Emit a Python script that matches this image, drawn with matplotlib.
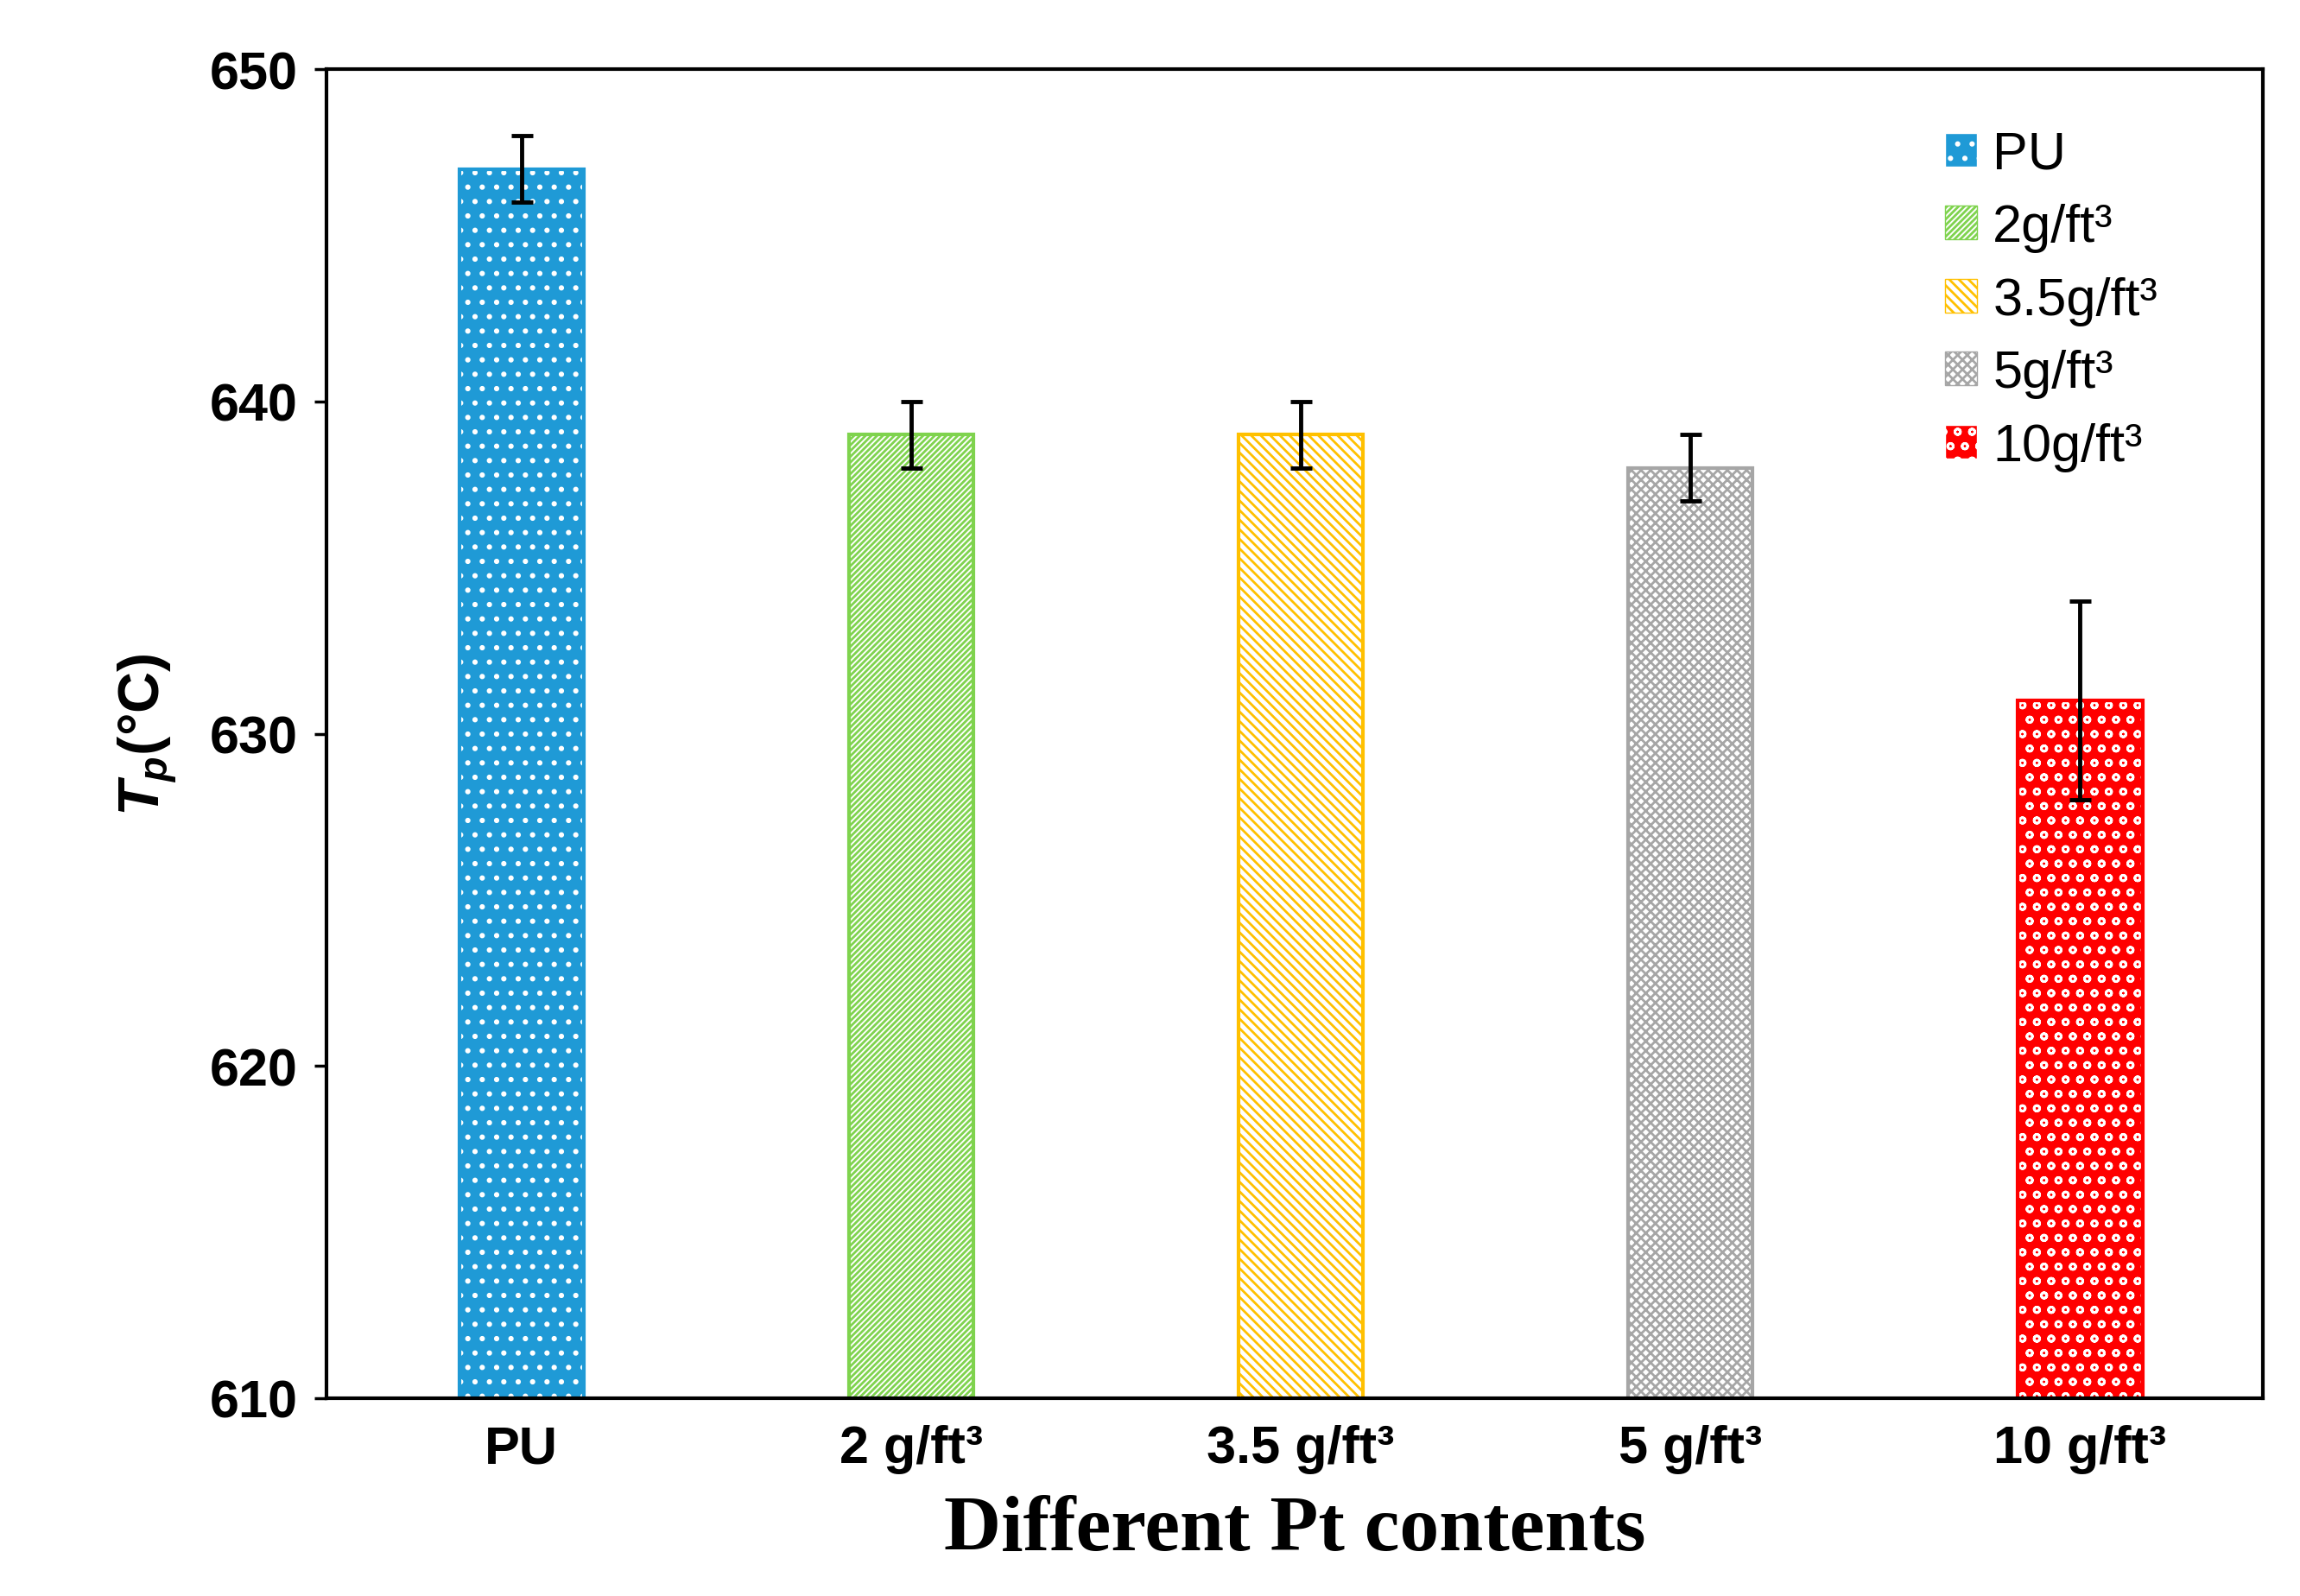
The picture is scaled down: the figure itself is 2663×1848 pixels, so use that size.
import matplotlib.pyplot as plt
from matplotlib.patches import Patch

categories = ["PU", "2 g/ft³", "3.5 g/ft³", "5 g/ft³", "10 g/ft³"]
legend_labels = ["PU", "2g/ft³", "3.5g/ft³", "5g/ft³", "10g/ft³"]
values = [647, 639, 639, 638, 631]
errors = [1, 1, 1, 1, 3]

colors = ["#1f9ad6", "#7fd34e", "#ffc000", "#a6a6a6", "#ff0000"]
faces = ["#1f9ad6", "white", "white", "white", "#ff0000"]
hatch_cols = ["white", "#7fd34e", "#ffc000", "#a6a6a6", "white"]
hatches = [".", "/////", "\\\\\\", "xxx", "o"]

plt.rcParams["font.family"] = "Liberation Sans"
plt.rcParams["mathtext.fontset"] = "custom"
plt.rcParams["mathtext.it"] = "Liberation Sans:italic:bold"
plt.rcParams["mathtext.rm"] = "Liberation Sans:bold"
plt.rcParams["hatch.linewidth"] = 2.0

fig = plt.figure(figsize=(26.63, 18.49), dpi=100)
ax = fig.add_axes([0.142, 0.124, 0.842, 0.832])

x = range(len(categories))
handles = []
for i in x:
    ax.bar(i, values[i] - 610, bottom=610, width=0.32, color=faces[i],
           edgecolor=hatch_cols[i], hatch=hatches[i], linewidth=0)
    ax.bar(i, values[i] - 610, bottom=610, width=0.32, fill=False,
           edgecolor=colors[i], linewidth=3)
    handles.append(Patch(facecolor=faces[i], edgecolor=hatch_cols[i], hatch=hatches[i]))
ax.errorbar(list(x), values, yerr=errors, fmt="none", ecolor="black",
            elinewidth=3.5, capsize=9, capthick=3.5)

ax.set_ylim(610, 650)
ax.set_xlim(-0.5, 4.47)
ax.set_yticks([610, 620, 630, 640, 650])
ax.set_xticks(list(x))
ax.set_xticklabels(categories)
ax.tick_params(axis="both", labelsize=44, width=2.5, length=10)
ax.tick_params(axis="x", length=0, pad=22)
ax.tick_params(axis="y", pad=14)
for lab in ax.get_xticklabels() + ax.get_yticklabels():
    lab.set_fontweight("bold")
for s in ax.spines.values():
    s.set_linewidth(3)

ax.set_ylabel("$T_p$(°C)", fontsize=48, fontweight="bold", labelpad=26)
ax.set_xlabel("Different Pt contents", fontsize=66, fontweight="bold",
              fontfamily="Liberation Serif", labelpad=18)

ax.legend(handles, legend_labels, loc="upper right", frameon=False, fontsize=44,
          handlelength=0.6, handleheight=0.6, handletextpad=0.3, labelspacing=0.45,
          bbox_to_anchor=(0.97, 0.99))

fig.savefig("out.png", dpi=100)
